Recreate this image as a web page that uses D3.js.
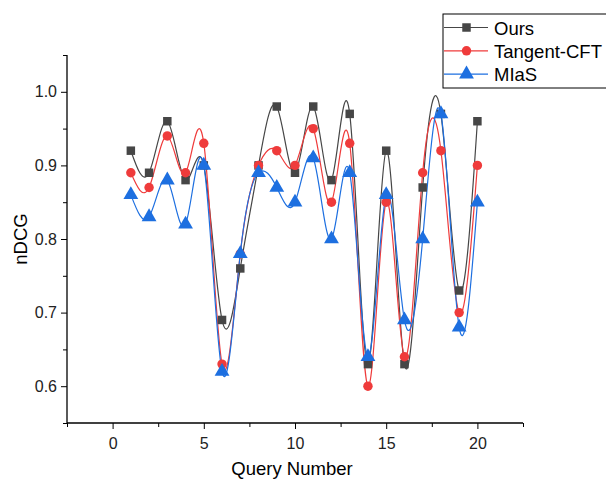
<!DOCTYPE html>
<html>
<head>
<meta charset="utf-8">
<script src="https://cdn.jsdelivr.net/npm/d3@7"></script>
<style>
  body { margin: 0; background: #fff; }
  svg { font-family: "Liberation Sans", Arial, sans-serif; }
</style>
</head>
<body>
<svg width="606" height="479"></svg>
<script>
var queries = d3.range(1, 21);
var ours = [0.92, 0.89, 0.96, 0.88, 0.90, 0.69, 0.76, 0.90, 0.98, 0.89, 0.98, 0.88, 0.97, 0.63, 0.92, 0.63, 0.87, 0.97, 0.73, 0.96];
var tangent = [0.89, 0.87, 0.94, 0.89, 0.93, 0.63, 0.78, 0.90, 0.92, 0.90, 0.95, 0.85, 0.93, 0.60, 0.85, 0.64, 0.89, 0.92, 0.70, 0.90];
var mias = [0.86, 0.83, 0.88, 0.82, 0.90, 0.62, 0.78, 0.89, 0.87, 0.85, 0.91, 0.80, 0.89, 0.64, 0.86, 0.69, 0.80, 0.97, 0.68, 0.85];
var seriesNames = ['Ours', 'Tangent-CFT', 'MIaS'];
var xTicks = [0, 5, 10, 15, 20];
var yTicks = [0.6, 0.7, 0.8, 0.9, 1.0];

var colors = ['#464646', '#ef3b3b', '#1d6fe0'];
var symbols = [d3.symbolSquare, d3.symbolCircle, d3.symbolTriangle];
var symSizes = [72, 70, 95];

var svg = d3.select('svg');
var mLeft = 67, mRight = 523, mTop = 55, mBottom = 423;

var x = d3.scaleLinear().domain([-2.5, 22.5]).range([mLeft, mRight]);
var y = d3.scaleLinear().domain([0.55, 1.05]).range([mBottom, mTop]);

//axes with minor ticks
var xAxis = svg.append('g').attr('transform', 'translate(0,' + mBottom + ')')
  .call(d3.axisBottom(x).tickValues(d3.range(-2.5, 22.6, 2.5)).tickSize(5)
    .tickFormat(d => xTicks.indexOf(d) >= 0 ? d : ''));
xAxis.selectAll('.tick line').attr('y2', d => xTicks.indexOf(d) >= 0 ? 6 : 4);
var yAxis = svg.append('g').attr('transform', 'translate(' + mLeft + ',0)')
  .call(d3.axisLeft(y).tickValues(d3.range(0.55, 1.051, 0.05).map(v => +v.toFixed(2))).tickSize(5)
    .tickFormat(d => yTicks.some(t => Math.abs(t - d) < 1e-6) ? d3.format('.1f')(d) : ''));
yAxis.selectAll('.tick line').attr('x2', d => yTicks.some(t => Math.abs(t - d) < 1e-6) ? -6 : -4);
svg.selectAll('.domain').remove();
xAxis.append('line').attr('x1', mLeft).attr('x2', mRight).attr('stroke', '#000').attr('stroke-width', 1.3);
yAxis.append('line').attr('y1', mTop).attr('y2', mBottom).attr('stroke', '#000').attr('stroke-width', 1.3);
xAxis.attr('font-size', 16).attr('font-family', null);
yAxis.attr('font-size', 16).attr('font-family', null);
svg.selectAll('.tick text').attr('fill', '#222');
xAxis.selectAll('.tick text').attr('y', 26).attr('dy', null);
yAxis.selectAll('.tick text').attr('x', -10);

svg.append('text').attr('x', (mLeft + mRight) / 2 - 3).attr('y', 475).attr('text-anchor', 'middle')
  .attr('font-size', 18.5).text('Query Number');
svg.append('text').attr('transform', 'translate(27,' + ((mTop + mBottom) / 2) + ') rotate(-90)')
  .attr('text-anchor', 'middle').attr('font-size', 18.5).text('nDCG');

var data = [ours, tangent, mias];
var line = d3.line().x((d, i) => x(queries[i])).y(d => y(d)).curve(d3.curveNatural);

data.forEach(function (vals, s) {
  svg.append('path').attr('d', line(vals)).attr('fill', 'none')
    .attr('stroke', colors[s]).attr('stroke-width', 1.2);
});
data.forEach(function (vals, s) {
  svg.selectAll('.m' + s).data(vals).enter().append('path')
    .attr('transform', (d, i) => 'translate(' + x(queries[i]) + ',' + y(d) + ')')
    .attr('d', d3.symbol().type(symbols[s]).size(symSizes[s]))
    .attr('fill', colors[s]);
});

//legend
var lg = svg.append('g');
lg.append('rect').attr('x', 443).attr('y', 14).attr('width', 170).attr('height', 74)
  .attr('fill', '#fff').attr('stroke', '#000').attr('stroke-width', 1);
seriesNames.forEach(function (name, s) {
  var yy = 27.5 + s * 23.3;
  lg.append('line').attr('x1', 444).attr('x2', 488).attr('y1', yy).attr('y2', yy)
    .attr('stroke', colors[s]).attr('stroke-width', 1.2);
  lg.append('path').attr('transform', 'translate(466.5,' + yy + ')')
    .attr('d', d3.symbol().type(symbols[s]).size(symSizes[s])).attr('fill', colors[s]);
  lg.append('text').attr('x', 494).attr('y', yy + 7).attr('font-size', 18.5).text(name);
});
</script>
</body>
</html>
